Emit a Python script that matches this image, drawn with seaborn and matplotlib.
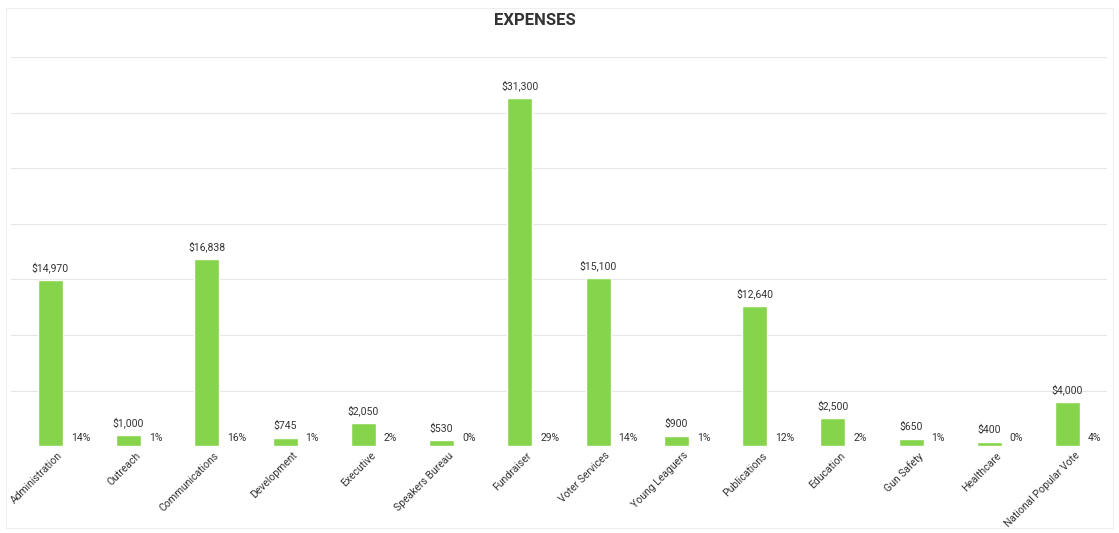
import seaborn as sns
import matplotlib.pyplot as plt
import matplotlib.transforms as mtransforms
import pandas as pd

# Datos del gráfico
categorias = ["Administration", "Outreach", "Communications", "Development", "Executive",
              "Speakers Bureau", "Fundraiser", "Voter Services", "Young Leaguers",
              "Publications", "Education", "Gun Safety", "Healthcare", "National Popular Vote"]
gastos = [14970, 1000, 16838, 745, 2050, 530, 31300, 15100, 900, 12640, 2500, 650, 400, 4000]
porcentajes = [14, 1, 16, 1, 2, 0, 29, 14, 1, 12, 2, 1, 0, 4]

df = pd.DataFrame({"Categoria": categorias, "Gasto": gastos, "Pct": porcentajes})

sns.set_theme(style="white")
plt.rcParams["font.family"] = ["Roboto", "DejaVu Sans"]

fig = plt.figure(figsize=(11.19, 5.33), dpi=100)
ax = fig.add_axes([0.01, 0.163, 0.979, 0.73])

sns.barplot(data=df, x="Categoria", y="Gasto", color="#86d44c", width=0.32,
            saturation=1, ax=ax, zorder=3)

ax.set_ylim(0, 35000)
ax.set_xlim(-0.5, len(categorias) - 0.5)
ax.set_yticks(range(0, 35001, 5000))
ax.yaxis.grid(True, color="#e6e6e6", linewidth=0.8, zorder=0)
ax.set_yticklabels([])
ax.tick_params(axis="y", length=0)
ax.tick_params(axis="x", length=0, pad=3)
for s in ax.spines.values():
    s.set_visible(False)
ax.set_xlabel("")
ax.set_ylabel("")

# Desplazar etiquetas del eje x un poco a la derecha
desplazamiento = mtransforms.ScaledTranslation(7 / 100, 0, fig.dpi_scale_trans)
for lbl in ax.get_xticklabels():
    lbl.set_rotation(45)
    lbl.set_ha("right")
    lbl.set_rotation_mode("anchor")
    lbl.set_fontsize(7.5)
    lbl.set_color("#333333")
    lbl.set_transform(lbl.get_transform() + desplazamiento)

# Etiquetas de valores y porcentajes
for i, (v, p) in enumerate(zip(gastos, porcentajes)):
    ax.text(i, v + 600, f"${v:,}", ha="center", va="bottom", fontsize=7.5, color="#333333")
    ax.text(i + 0.26, 300, f"{p}%", ha="left", va="bottom", fontsize=7.5, color="#333333")

fig.text(0.478, 0.962, "EXPENSES", ha="center", va="center", fontsize=12,
         fontweight="bold", color="#333333")

# Marco ligero alrededor del gráfico
fig.patches.append(plt.Rectangle((0.005, 0.01), 0.99, 0.975, transform=fig.transFigure,
                                 fill=False, edgecolor="#eeeeee", linewidth=0.8))

plt.savefig("out.png", dpi=100)
